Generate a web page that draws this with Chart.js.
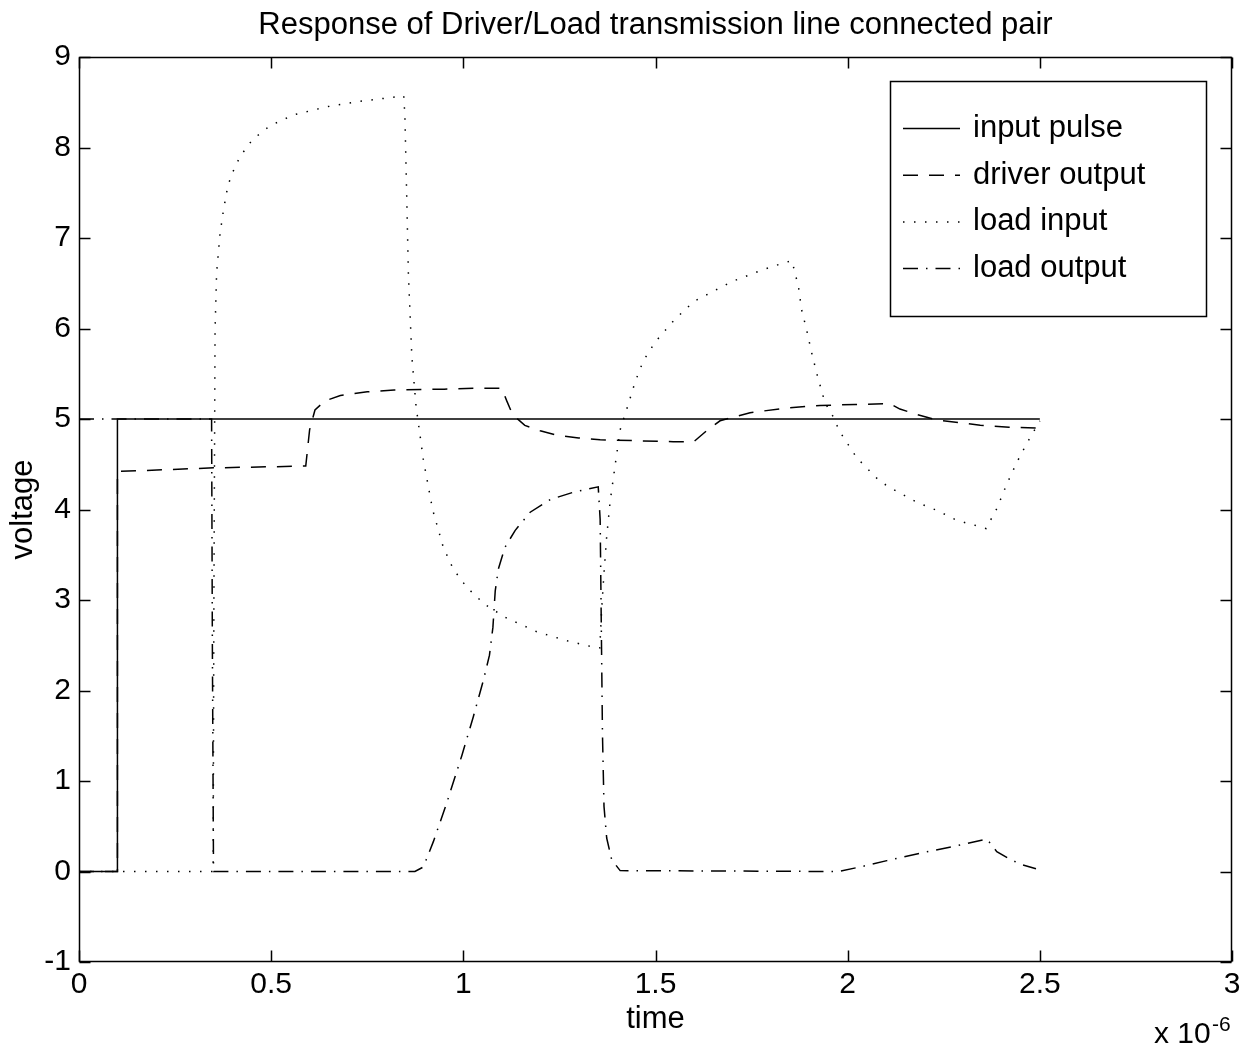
<!DOCTYPE html>
<html>
<head>
<meta charset="utf-8">
<script src="https://cdn.jsdelivr.net/npm/chart.js@4.4.1/dist/chart.umd.min.js"></script>
<style>
  html, body { margin: 0; padding: 0; background: #fff; }
  #wrap { width: 1251px; height: 1053px; }
</style>
</head>
<body>
<div id="wrap"><canvas id="chart"></canvas></div>
<script>
// time in units of 1e-6 s, voltage in V
const inputPulseT = [0, 0.1, 0.1, 2.5]
const inputPulseV = [0, 0, 5, 5]

const driverT = [0, 0.1, 0.1, 0.35, 0.59, 0.6, 0.614, 0.64, 0.68, 0.75, 0.82, 0.95, 1.04, 1.1, 1.113, 1.128, 1.16, 1.2, 1.243, 1.3, 1.356, 1.45, 1.546, 1.6, 1.633, 1.668, 1.746, 1.84, 1.928, 2.02, 2.11, 2.136, 2.18, 2.232, 2.29, 2.345, 2.42, 2.5]
const driverV = [0, 0, 4.42, 4.46, 4.48, 4.88, 5.1, 5.2, 5.26, 5.3, 5.32, 5.33, 5.34, 5.34, 5.2, 5.05, 4.93, 4.87, 4.82, 4.79, 4.77, 4.76, 4.75, 4.75, 4.87, 4.98, 5.07, 5.12, 5.15, 5.16, 5.17, 5.11, 5.05, 4.99, 4.96, 4.93, 4.91, 4.9]

const loadInT = [0, 0.349, 0.351, 0.354, 0.358, 0.367, 0.376, 0.387, 0.397, 0.419, 0.452, 0.497, 0.558, 0.645, 0.731, 0.845, 0.848, 0.853, 0.857, 0.866, 0.877, 0.896, 0.92, 0.948, 0.974, 1.009, 1.056, 1.113, 1.191, 1.269, 1.338, 1.355, 1.36, 1.366, 1.373, 1.382, 1.395, 1.408, 1.429, 1.447, 1.468, 1.499, 1.55, 1.6, 1.7, 1.78, 1.83, 1.855, 1.872, 1.88, 1.894, 1.907, 1.921, 1.941, 1.963, 1.978, 2.024, 2.084, 2.128, 2.18, 2.232, 2.284, 2.336, 2.36, 2.388, 2.414, 2.44, 2.466, 2.5]
const loadInV = [0, 0, 3.0, 5.98, 6.61, 7.05, 7.31, 7.57, 7.70, 7.90, 8.09, 8.24, 8.36, 8.45, 8.51, 8.57, 8.34, 7.4, 6.61, 5.69, 5.14, 4.55, 4.0, 3.58, 3.34, 3.14, 2.95, 2.80, 2.65, 2.55, 2.48, 2.47, 2.90, 3.30, 3.70, 4.09, 4.49, 4.88, 5.16, 5.41, 5.64, 5.85, 6.1, 6.3, 6.52, 6.65, 6.72, 6.75, 6.46, 6.21, 5.97, 5.72, 5.48, 5.18, 5.02, 4.87, 4.57, 4.31, 4.20, 4.08, 3.99, 3.88, 3.82, 3.79, 4.01, 4.28, 4.52, 4.73, 4.98]

const loadOutT = [0, 0.345, 0.347, 0.35, 0.874, 0.896, 0.922, 0.957, 0.996, 1.026, 1.052, 1.068, 1.077, 1.083, 1.091, 1.108, 1.135, 1.174, 1.226, 1.286, 1.351, 1.356, 1.358, 1.36, 1.362, 1.366, 1.373, 1.386, 1.408, 1.976, 2.032, 2.102, 2.197, 2.301, 2.362, 2.388, 2.42, 2.45, 2.49]
const loadOutV = [5, 5, 2.5, 0, 0, 0.05, 0.33, 0.76, 1.28, 1.71, 2.11, 2.39, 2.70, 3.10, 3.34, 3.58, 3.77, 3.97, 4.11, 4.19, 4.25, 3.89, 3.10, 2.31, 1.52, 0.72, 0.37, 0.13, 0.01, 0, 0.05, 0.12, 0.21, 0.30, 0.36, 0.22, 0.14, 0.08, 0.03]

const seriesNames = ['input pulse', 'driver output', 'load input', 'load output']
const xTicks = [0, 0.5, 1, 1.5, 2, 2.5, 3]
const yTicks = [-1, 0, 1, 2, 3, 4, 5, 6, 7, 8, 9]

const FONT = '"Liberation Sans", Arial, Helvetica, sans-serif'
Chart.defaults.font.family = FONT
Chart.defaults.color = '#000'

function pts(t, v) {
    return t.map((x, i) => ({x: x, y: v[i]}))
}

function lineSet(label, t, v, dash) {
    return {
        label: label,
        data: pts(t, v),
        borderColor: '#000',
        borderWidth: 1.5,
        borderDash: dash,
        pointRadius: 0,
        tension: 0,
        fill: false
    }
}

// box, inward ticks, legend and the x 10^-6 exponent, matlab style
const matlabFrame = {
    id: 'matlabFrame',
    afterDatasetsDraw(chart) {
        const ctx = chart.ctx
        const a = chart.chartArea
        const sx = chart.scales.x, sy = chart.scales.y
        const L = Math.round(a.left) + 0.5, R = Math.round(a.right) - 0.5
        const T = Math.round(a.top) + 0.5, B = Math.round(a.bottom) - 0.5
        const tick = 11
        ctx.save()
        ctx.strokeStyle = '#000'
        ctx.lineWidth = 1.5
        ctx.setLineDash([])
        ctx.strokeRect(L, T, R - L, B - T)
        ctx.beginPath()
        xTicks.forEach(v => {
            const px = Math.round(sx.getPixelForValue(v)) + 0.5
            ctx.moveTo(px, B); ctx.lineTo(px, B - tick)
            ctx.moveTo(px, T); ctx.lineTo(px, T + tick)
        })
        yTicks.forEach(v => {
            const py = Math.round(sy.getPixelForValue(v)) + 0.5
            ctx.moveTo(L, py); ctx.lineTo(L + tick, py)
            ctx.moveTo(R, py); ctx.lineTo(R - tick, py)
        })
        ctx.stroke()

        // legend
        const lx = 890.5, ly = 81.5, lw = 316, lh = 235
        ctx.fillStyle = '#fff'
        ctx.fillRect(lx, ly, lw, lh)
        ctx.lineWidth = 1.5
        ctx.strokeRect(lx, ly, lw, lh)
        ctx.font = '31px ' + FONT
        ctx.textBaseline = 'middle'
        ctx.textAlign = 'left'
        chart.data.datasets.forEach((ds, i) => {
            const y = 128.5 + i * 46.7
            ctx.beginPath()
            ctx.lineWidth = 1.5
            ctx.setLineDash(ds.borderDash || [])
            ctx.moveTo(903, y); ctx.lineTo(960, y)
            ctx.stroke()
            ctx.fillStyle = '#000'
            ctx.fillText(ds.label, 973, y)
        })
        ctx.setLineDash([])

        // exponent label
        ctx.textBaseline = 'alphabetic'
        ctx.font = '30px ' + FONT
        ctx.fillText('x 10', 1154, 1043)
        ctx.font = '21px ' + FONT
        ctx.fillText('-6', 1212, 1031)
        ctx.restore()
    }
}

new Chart(document.getElementById('chart').getContext('2d'), {
    type: 'line',
    data: {
        datasets: [
            lineSet(seriesNames[0], inputPulseT, inputPulseV, []),
            lineSet(seriesNames[1], driverT, driverV, [15, 11]),
            lineSet(seriesNames[2], loadInT, loadInV, [1.5, 9.5]),
            lineSet(seriesNames[3], loadOutT, loadOutV, [15, 8, 1.5, 8])
        ]
    },
    options: {
        responsive: true,
        maintainAspectRatio: false,
        animation: false,
        layout: { padding: { left: 0, right: 19, top: 0, bottom: 0 } },
        scales: {
            x: {
                type: 'linear',
                min: 0,
                max: 3,
                afterFit: s => { s.height = 91 },
                afterBuildTicks: s => { s.ticks = xTicks.map(v => ({value: v})) },
                ticks: {
                    padding: 5,
                    font: { size: 30 },
                    color: '#000',
                    maxRotation: 0,
                    callback: v => String(Math.round(v * 10) / 10)
                },
                grid: { display: false, drawTicks: false },
                border: { display: false },
                title: {
                    display: true,
                    text: 'time',
                    font: { size: 31 },
                    color: '#000',
                    padding: { top: 0, bottom: 15 }
                }
            },
            y: {
                type: 'linear',
                min: -1,
                max: 9,
                afterFit: s => { s.width = 79 },
                afterBuildTicks: s => { s.ticks = yTicks.map(v => ({value: v})) },
                ticks: {
                    padding: 8,
                    font: { size: 30 },
                    color: '#000',
                    callback: v => String(v)
                },
                grid: { display: false, drawTicks: false },
                border: { display: false },
                title: {
                    display: true,
                    text: 'voltage',
                    font: { size: 31 },
                    color: '#000',
                    padding: { top: 5, bottom: 0 }
                }
            }
        },
        plugins: {
            legend: { display: false },
            tooltip: { enabled: false },
            title: {
                display: true,
                text: 'Response of Driver/Load transmission line connected pair',
                fullSize: false,
                font: { size: 31, weight: 'normal' },
                color: '#000',
                padding: { top: 7, bottom: 12.8 }
            }
        }
    },
    plugins: [matlabFrame]
});
</script>
</body>
</html>
